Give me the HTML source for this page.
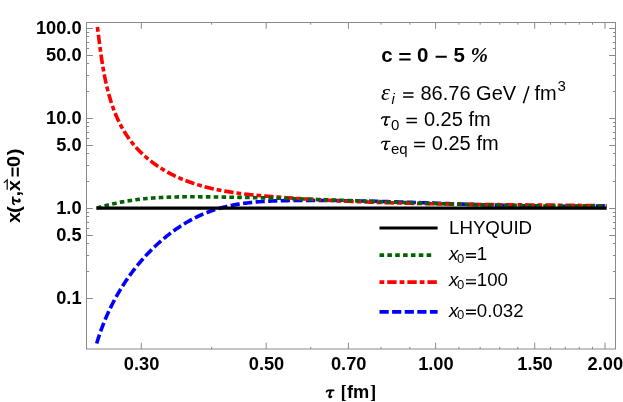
<!DOCTYPE html>
<html><head><meta charset="utf-8"><title>plot</title>
<style>html,body{margin:0;padding:0;background:#fff;}svg{display:block;will-change:transform;}text{font-family:"Liberation Sans",sans-serif;fill:#000;}.b{font-weight:bold;font-size:18.25px;}.r{font-size:20px;}.l{font-size:18.7px;}.si{font-family:"Liberation Serif",serif;font-style:italic;}.sbi{font-family:"Liberation Serif",serif;font-style:italic;font-weight:bold;}.sb{font-family:"Liberation Serif",serif;font-weight:bold;}.it{font-style:italic;}</style></head><body>
<svg width="623" height="402" viewBox="0 0 623 402">
<rect x="0" y="0" width="623" height="402" fill="#fff"/>
<g fill="none" stroke-width="3.6" stroke-linecap="butt" stroke-linejoin="round">
<path d="M96.70,343.40 L97.12,342.02 L97.54,340.64 L97.97,339.27 L98.41,337.89 L98.86,336.52 L99.31,335.16 L99.78,333.79 L100.25,332.43 L100.73,331.07 L101.22,329.71 L101.72,328.36 L102.23,327.01 L102.74,325.66 L103.26,324.31 L103.79,322.97 L104.33,321.63 L104.88,320.30 L105.43,318.97 L106.00,317.64 L106.57,316.31 L107.15,314.99 L107.74,313.67 L108.34,312.36 L108.94,311.05 L109.56,309.74 L110.18,308.43 L110.81,307.13 L111.45,305.84 L112.10,304.55 L112.75,303.26 L113.42,301.97 L114.09,300.69 L114.77,299.42 L115.46,298.14 L116.16,296.88 L116.86,295.61 L117.58,294.36 L118.30,293.10 L119.03,291.85 L119.77,290.61 L120.52,289.36 L121.28,288.13 L122.04,286.90 L122.82,285.67 L123.60,284.45 L124.39,283.23 L125.18,282.02 L125.99,280.81 L126.81,279.61 L127.63,278.41 L128.46,277.22 L129.30,276.04 L130.15,274.86 L131.01,273.68 L131.87,272.51 L132.75,271.35 L133.63,270.19 L134.52,269.03 L135.42,267.88 L136.33,266.74 L137.25,265.61 L138.17,264.47 L139.10,263.35 L140.05,262.23 L141.00,261.12 L141.95,260.01 L142.92,258.91 L143.90,257.82 L144.88,256.73 L145.87,255.65 L146.87,254.58 L147.88,253.51 L148.89,252.45 L149.91,251.40 L150.95,250.36 L151.98,249.32 L153.03,248.29 L154.08,247.27 L155.15,246.26 L156.21,245.25 L157.29,244.26 L158.37,243.27 L159.46,242.29 L160.56,241.32 L161.67,240.36 L162.78,239.41 L163.90,238.47 L165.02,237.53 L166.16,236.61 L167.30,235.70 L168.44,234.79 L169.60,233.90 L170.76,233.02 L171.92,232.14 L173.10,231.28 L174.28,230.43 L175.46,229.59 L176.65,228.76 L177.85,227.94 L179.06,227.13 L180.27,226.33 L181.49,225.55 L182.71,224.78 L183.94,224.01 L185.17,223.26 L186.41,222.53 L187.66,221.80 L188.91,221.09 L190.17,220.39 L191.43,219.70 L192.70,219.03 L193.97,218.37 L195.25,217.72 L196.54,217.08 L197.83,216.46 L199.12,215.85 L200.42,215.26 L201.73,214.68 L203.04,214.11 L204.35,213.56 L205.67,213.02 L207.00,212.50 L208.33,211.99 L209.66,211.49 L211.00,211.01 L212.34,210.55 L213.69,210.10 L215.04,209.66 L216.40,209.24 L217.76,208.83 L219.12,208.43 L220.49,208.05 L221.86,207.68 L223.24,207.32 L224.62,206.97 L226.00,206.64 L227.39,206.32 L228.78,206.01 L230.17,205.71 L231.57,205.42 L232.97,205.14 L234.37,204.88 L235.78,204.62 L237.19,204.38 L238.60,204.14 L240.02,203.92 L241.44,203.70 L242.86,203.50 L244.28,203.30 L245.71,203.11 L247.14,202.94 L248.57,202.77 L250.00,202.60 L251.44,202.45 L252.87,202.30 L254.31,202.17 L255.76,202.04 L257.20,201.91 L258.64,201.80 L260.09,201.69 L261.54,201.58 L262.99,201.49 L264.44,201.40 L265.89,201.31 L267.35,201.23 L268.80,201.16 L270.26,201.09 L271.72,201.03 L273.17,200.97 L274.63,200.91 L276.09,200.86 L277.55,200.82 L279.02,200.77 L280.48,200.74 L281.94,200.70 L283.40,200.67 L284.86,200.64 L286.33,200.61 L287.79,200.59 L289.25,200.57 L290.72,200.55 L292.18,200.53 L293.64,200.52 L295.11,200.50 L296.57,200.49 L298.03,200.48 L299.49,200.47 L300.95,200.46 L302.41,200.45 L303.87,200.44 L305.33,200.44 L306.79,200.43 L308.25,200.43 L309.71,200.43 L311.17,200.42 L312.63,200.42 L314.09,200.43 L315.55,200.43 L317.00,200.43 L318.46,200.44 L319.92,200.44 L321.37,200.45 L322.83,200.46 L324.29,200.46 L325.74,200.47 L327.20,200.48 L328.65,200.50 L330.11,200.51 L331.56,200.52 L333.02,200.54 L334.47,200.55 L335.93,200.57 L337.38,200.58 L338.83,200.60 L340.29,200.62 L341.74,200.64 L343.19,200.66 L344.64,200.68 L346.10,200.71 L347.55,200.73 L349.00,200.75 L350.45,200.78 L351.90,200.80 L353.35,200.83 L354.80,200.86 L356.26,200.89 L357.71,200.91 L359.16,200.94 L360.61,200.97 L362.06,201.01 L363.51,201.04 L364.95,201.07 L366.40,201.10 L367.85,201.13 L369.30,201.17 L370.75,201.20 L372.20,201.24 L373.65,201.27 L375.09,201.31 L376.54,201.35 L377.99,201.39 L379.44,201.42 L380.88,201.46 L382.33,201.50 L383.78,201.54 L385.23,201.58 L386.67,201.62 L388.12,201.66 L389.56,201.71 L391.01,201.75 L392.46,201.79 L393.90,201.83 L395.35,201.88 L396.79,201.92 L398.24,201.96 L399.69,202.01 L401.13,202.05 L402.58,202.10 L404.02,202.14 L405.47,202.19 L406.91,202.23 L408.35,202.28 L409.80,202.33 L411.24,202.37 L412.69,202.42 L414.13,202.47 L415.58,202.52 L417.02,202.56 L418.46,202.61 L419.91,202.66 L421.35,202.71 L422.80,202.76 L424.24,202.81 L425.68,202.86 L427.13,202.90 L428.57,202.95 L430.01,203.00 L431.46,203.05 L432.90,203.10 L434.34,203.15 L435.78,203.20 L437.23,203.25 L438.67,203.30 L440.11,203.35 L441.56,203.40 L443.00,203.45 L444.44,203.50 L445.88,203.55 L447.33,203.60 L448.77,203.64 L450.21,203.69 L451.66,203.74 L453.10,203.79 L454.54,203.84 L455.98,203.89 L457.43,203.94 L458.87,203.99 L460.31,204.03 L461.75,204.08 L463.20,204.13 L464.64,204.18 L466.08,204.23 L467.52,204.27 L468.97,204.32 L470.41,204.37 L471.85,204.41 L473.29,204.46 L474.74,204.51 L476.18,204.55 L477.62,204.60 L479.06,204.64 L480.51,204.69 L481.95,204.73 L483.39,204.77 L484.83,204.82 L486.28,204.86 L487.72,204.90 L489.16,204.95 L490.61,204.99 L492.05,205.03 L493.49,205.07 L494.94,205.11 L496.38,205.15 L497.82,205.19 L499.27,205.23 L500.71,205.27 L502.15,205.30 L503.60,205.34 L505.04,205.38 L506.49,205.42 L507.93,205.45 L509.37,205.49 L510.82,205.52 L512.26,205.55 L513.71,205.59 L515.15,205.62 L516.60,205.65 L518.04,205.68 L519.48,205.71 L520.93,205.74 L522.37,205.77 L523.82,205.80 L525.27,205.83 L526.71,205.85 L528.16,205.88 L529.60,205.91 L531.05,205.93 L532.49,205.95 L533.94,205.98 L535.39,206.00 L536.83,206.02 L538.28,206.04 L539.73,206.06 L541.17,206.08 L542.62,206.10 L544.07,206.11 L545.51,206.13 L546.96,206.14 L548.41,206.16 L549.86,206.17 L551.31,206.18 L552.75,206.19 L554.20,206.20 L555.65,206.21 L557.10,206.22 L558.55,206.23 L560.00,206.23 L561.45,206.24 L562.90,206.24 L564.35,206.25 L565.80,206.25 L567.25,206.25 L568.70,206.25 L570.15,206.25 L571.60,206.24 L573.05,206.24 L574.50,206.23 L575.96,206.23 L577.41,206.22 L578.86,206.21 L580.31,206.20 L581.76,206.19 L583.22,206.18 L584.67,206.16 L586.12,206.15 L587.58,206.13 L589.03,206.12 L590.49,206.10 L591.94,206.08 L593.40,206.06 L594.85,206.03 L596.31,206.01 L597.76,205.98 L599.22,205.96 L600.67,205.93 L602.13,205.90 L603.59,205.87 L605.04,205.83 L606.50,205.80" stroke="#0000ff" stroke-dasharray="9.2 3.4"/>
<path d="M97.40,27.00 L97.59,28.47 L97.78,29.95 L97.97,31.42 L98.16,32.91 L98.35,34.40 L98.54,35.89 L98.73,37.39 L98.92,38.89 L99.11,40.39 L99.31,41.90 L99.50,43.41 L99.70,44.92 L99.90,46.44 L100.10,47.96 L100.30,49.48 L100.51,51.00 L100.72,52.52 L100.93,54.05 L101.15,55.58 L101.37,57.11 L101.60,58.64 L101.83,60.17 L102.07,61.70 L102.31,63.23 L102.55,64.76 L102.81,66.30 L103.06,67.83 L103.33,69.36 L103.60,70.89 L103.88,72.42 L104.16,73.95 L104.45,75.48 L104.75,77.00 L105.06,78.53 L105.37,80.05 L105.70,81.57 L106.03,83.09 L106.37,84.60 L106.72,86.11 L107.08,87.62 L107.45,89.13 L107.83,90.63 L108.22,92.13 L108.63,93.63 L109.04,95.12 L109.46,96.61 L109.90,98.09 L110.34,99.57 L110.80,101.04 L111.27,102.51 L111.75,103.97 L112.25,105.43 L112.76,106.88 L113.28,108.32 L113.81,109.76 L114.36,111.20 L114.93,112.62 L115.51,114.04 L116.10,115.45 L116.71,116.86 L117.33,118.26 L117.96,119.64 L118.62,121.02 L119.28,122.40 L119.97,123.76 L120.67,125.11 L121.38,126.46 L122.11,127.79 L122.86,129.12 L123.63,130.43 L124.41,131.74 L125.21,133.03 L126.03,134.31 L126.86,135.58 L127.71,136.84 L128.59,138.09 L129.47,139.33 L130.38,140.55 L131.31,141.76 L132.25,142.96 L133.22,144.14 L134.20,145.31 L135.20,146.47 L136.22,147.61 L137.26,148.74 L138.31,149.86 L139.38,150.96 L140.47,152.05 L141.57,153.12 L142.69,154.18 L143.82,155.22 L144.97,156.25 L146.13,157.27 L147.31,158.27 L148.49,159.25 L149.69,160.22 L150.90,161.18 L152.13,162.11 L153.36,163.04 L154.61,163.95 L155.86,164.84 L157.12,165.71 L158.40,166.58 L159.68,167.42 L160.97,168.25 L162.27,169.06 L163.57,169.85 L164.88,170.63 L166.20,171.40 L167.53,172.14 L168.86,172.87 L170.20,173.59 L171.54,174.29 L172.89,174.97 L174.25,175.64 L175.61,176.29 L176.98,176.93 L178.35,177.56 L179.73,178.17 L181.12,178.76 L182.51,179.35 L183.91,179.92 L185.31,180.47 L186.72,181.01 L188.13,181.54 L189.54,182.06 L190.97,182.56 L192.39,183.05 L193.83,183.53 L195.26,184.00 L196.70,184.45 L198.15,184.90 L199.60,185.33 L201.05,185.75 L202.51,186.16 L203.97,186.56 L205.44,186.95 L206.91,187.32 L208.39,187.69 L209.86,188.05 L211.35,188.40 L212.83,188.74 L214.32,189.06 L215.81,189.38 L217.31,189.70 L218.80,190.00 L220.30,190.29 L221.81,190.58 L223.32,190.85 L224.82,191.12 L226.34,191.38 L227.85,191.64 L229.37,191.88 L230.89,192.12 L232.41,192.35 L233.93,192.58 L235.46,192.80 L236.99,193.01 L238.52,193.22 L240.05,193.42 L241.58,193.62 L243.12,193.80 L244.65,193.99 L246.19,194.17 L247.73,194.34 L249.27,194.51 L250.81,194.68 L252.36,194.84 L253.90,195.00 L255.44,195.15 L256.99,195.30 L258.53,195.44 L260.08,195.59 L261.62,195.73 L263.17,195.86 L264.72,196.00 L266.26,196.13 L267.81,196.26 L269.36,196.39 L270.91,196.51 L272.45,196.63 L274.00,196.76 L275.54,196.88 L277.09,197.00 L278.63,197.12 L280.18,197.23 L281.72,197.35 L283.27,197.47 L284.81,197.58 L286.35,197.69 L287.90,197.80 L289.44,197.91 L290.98,198.02 L292.52,198.13 L294.07,198.23 L295.61,198.34 L297.15,198.44 L298.69,198.55 L300.23,198.65 L301.77,198.75 L303.31,198.85 L304.85,198.94 L306.38,199.04 L307.92,199.14 L309.46,199.23 L311.00,199.32 L312.54,199.41 L314.07,199.51 L315.61,199.60 L317.15,199.68 L318.68,199.77 L320.22,199.86 L321.76,199.94 L323.29,200.03 L324.83,200.11 L326.36,200.19 L327.90,200.27 L329.43,200.35 L330.97,200.43 L332.50,200.51 L334.03,200.59 L335.57,200.67 L337.10,200.74 L338.63,200.81 L340.17,200.89 L341.70,200.96 L343.23,201.03 L344.76,201.10 L346.30,201.17 L347.83,201.24 L349.36,201.31 L350.89,201.37 L352.42,201.44 L353.95,201.50 L355.48,201.57 L357.01,201.63 L358.54,201.69 L360.07,201.75 L361.60,201.81 L363.13,201.87 L364.66,201.93 L366.19,201.99 L367.72,202.04 L369.25,202.10 L370.78,202.15 L372.31,202.21 L373.84,202.26 L375.36,202.32 L376.89,202.37 L378.42,202.42 L379.95,202.47 L381.48,202.52 L383.00,202.57 L384.53,202.61 L386.06,202.66 L387.59,202.71 L389.11,202.75 L390.64,202.80 L392.17,202.84 L393.69,202.89 L395.22,202.93 L396.75,202.97 L398.27,203.02 L399.80,203.06 L401.33,203.10 L402.85,203.14 L404.38,203.18 L405.91,203.21 L407.43,203.25 L408.96,203.29 L410.48,203.32 L412.01,203.36 L413.54,203.40 L415.06,203.43 L416.59,203.46 L418.11,203.50 L419.64,203.53 L421.16,203.56 L422.69,203.60 L424.21,203.63 L425.74,203.66 L427.26,203.69 L428.79,203.72 L430.31,203.75 L431.84,203.78 L433.37,203.80 L434.89,203.83 L436.42,203.86 L437.94,203.89 L439.47,203.91 L440.99,203.94 L442.52,203.96 L444.04,203.99 L445.57,204.01 L447.09,204.04 L448.62,204.06 L450.14,204.09 L451.67,204.11 L453.19,204.13 L454.72,204.15 L456.24,204.17 L457.77,204.20 L459.30,204.22 L460.82,204.24 L462.35,204.26 L463.87,204.28 L465.40,204.30 L466.92,204.32 L468.45,204.34 L469.98,204.36 L471.50,204.37 L473.03,204.39 L474.55,204.41 L476.08,204.43 L477.61,204.45 L479.13,204.46 L480.66,204.48 L482.19,204.50 L483.71,204.51 L485.24,204.53 L486.77,204.55 L488.29,204.56 L489.82,204.58 L491.35,204.59 L492.88,204.61 L494.40,204.62 L495.93,204.64 L497.46,204.65 L498.99,204.67 L500.51,204.68 L502.04,204.70 L503.57,204.71 L505.10,204.72 L506.63,204.74 L508.16,204.75 L509.69,204.77 L511.22,204.78 L512.74,204.79 L514.27,204.81 L515.80,204.82 L517.33,204.83 L518.86,204.85 L520.39,204.86 L521.92,204.87 L523.46,204.89 L524.99,204.90 L526.52,204.91 L528.05,204.93 L529.58,204.94 L531.11,204.95 L532.64,204.97 L534.18,204.98 L535.71,204.99 L537.24,205.01 L538.77,205.02 L540.31,205.04 L541.84,205.05 L543.37,205.06 L544.91,205.08 L546.44,205.09 L547.98,205.10 L549.51,205.12 L551.04,205.13 L552.58,205.15 L554.11,205.16 L555.65,205.18 L557.19,205.19 L558.72,205.21 L560.26,205.22 L561.80,205.24 L563.33,205.25 L564.87,205.27 L566.41,205.29 L567.95,205.30 L569.48,205.32 L571.02,205.34 L572.56,205.35 L574.10,205.37 L575.64,205.39 L577.18,205.40 L578.72,205.42 L580.26,205.44 L581.80,205.46 L583.34,205.48 L584.88,205.50 L586.42,205.52 L587.97,205.54 L589.51,205.56 L591.05,205.58 L592.60,205.60 L594.14,205.62 L595.68,205.64 L597.23,205.66 L598.77,205.68 L600.32,205.71 L601.86,205.73 L603.41,205.75 L604.95,205.78 L606.50,205.80" stroke="#ff0000" stroke-dasharray="4.8 2.95 9.4 2.95"/>
<path d="M97.00,208.10 L98.25,207.71 L99.51,207.33 L100.77,206.96 L102.03,206.60 L103.29,206.24 L104.55,205.90 L105.81,205.56 L107.07,205.23 L108.33,204.91 L109.59,204.60 L110.85,204.29 L112.11,203.99 L113.37,203.70 L114.63,203.42 L115.89,203.15 L117.15,202.88 L118.41,202.62 L119.68,202.37 L120.94,202.12 L122.20,201.88 L123.46,201.65 L124.73,201.43 L125.99,201.21 L127.25,201.00 L128.51,200.80 L129.78,200.60 L131.04,200.41 L132.30,200.22 L133.57,200.04 L134.83,199.87 L136.10,199.70 L137.36,199.54 L138.63,199.39 L139.89,199.24 L141.16,199.09 L142.42,198.95 L143.69,198.82 L144.95,198.69 L146.22,198.57 L147.48,198.45 L148.75,198.34 L150.02,198.23 L151.28,198.13 L152.55,198.03 L153.82,197.94 L155.08,197.85 L156.35,197.76 L157.62,197.68 L158.89,197.61 L160.15,197.53 L161.42,197.47 L162.69,197.40 L163.96,197.34 L165.23,197.29 L166.50,197.23 L167.76,197.18 L169.03,197.14 L170.30,197.10 L171.57,197.06 L172.84,197.02 L174.11,196.99 L175.38,196.96 L176.65,196.93 L177.92,196.91 L179.19,196.88 L180.46,196.87 L181.73,196.85 L183.00,196.83 L184.27,196.82 L185.54,196.81 L186.81,196.80 L188.09,196.80 L189.36,196.79 L190.63,196.79 L191.90,196.79 L193.17,196.79 L194.44,196.80 L195.72,196.80 L196.99,196.81 L198.26,196.81 L199.53,196.82 L200.81,196.83 L202.08,196.84 L203.35,196.85 L204.63,196.86 L205.90,196.87 L207.17,196.88 L208.45,196.89 L209.72,196.91 L210.99,196.92 L212.27,196.94 L213.54,196.95 L214.82,196.97 L216.09,196.98 L217.36,197.00 L218.64,197.01 L219.91,197.03 L221.19,197.05 L222.46,197.07 L223.74,197.09 L225.01,197.11 L226.29,197.12 L227.57,197.14 L228.84,197.17 L230.12,197.19 L231.39,197.21 L232.67,197.23 L233.94,197.25 L235.22,197.27 L236.50,197.30 L237.77,197.32 L239.05,197.34 L240.33,197.37 L241.60,197.39 L242.88,197.42 L244.16,197.44 L245.43,197.47 L246.71,197.50 L247.99,197.52 L249.27,197.55 L250.54,197.58 L251.82,197.61 L253.10,197.63 L254.38,197.66 L255.66,197.69 L256.93,197.72 L258.21,197.75 L259.49,197.78 L260.77,197.81 L262.05,197.84 L263.33,197.87 L264.60,197.91 L265.88,197.94 L267.16,197.97 L268.44,198.00 L269.72,198.03 L271.00,198.07 L272.28,198.10 L273.56,198.14 L274.84,198.17 L276.12,198.20 L277.40,198.24 L278.68,198.27 L279.95,198.31 L281.23,198.34 L282.51,198.38 L283.79,198.42 L285.07,198.45 L286.35,198.49 L287.64,198.53 L288.92,198.56 L290.20,198.60 L291.48,198.64 L292.76,198.68 L294.04,198.72 L295.32,198.75 L296.60,198.79 L297.88,198.83 L299.16,198.87 L300.44,198.91 L301.72,198.95 L303.00,198.99 L304.28,199.03 L305.57,199.07 L306.85,199.11 L308.13,199.15 L309.41,199.19 L310.69,199.24 L311.97,199.28 L313.26,199.32 L314.54,199.36 L315.82,199.40 L317.10,199.44 L318.38,199.49 L319.66,199.53 L320.95,199.57 L322.23,199.61 L323.51,199.66 L324.79,199.70 L326.07,199.74 L327.36,199.79 L328.64,199.83 L329.92,199.87 L331.20,199.92 L332.49,199.96 L333.77,200.01 L335.05,200.05 L336.33,200.10 L337.62,200.14 L338.90,200.18 L340.18,200.23 L341.46,200.27 L342.75,200.32 L344.03,200.36 L345.31,200.41 L346.60,200.45 L347.88,200.50 L349.16,200.54 L350.44,200.59 L351.73,200.64 L353.01,200.68 L354.29,200.73 L355.58,200.77 L356.86,200.82 L358.14,200.86 L359.43,200.91 L360.71,200.96 L361.99,201.00 L363.28,201.05 L364.56,201.09 L365.84,201.14 L367.13,201.19 L368.41,201.23 L369.69,201.28 L370.98,201.32 L372.26,201.37 L373.54,201.42 L374.83,201.46 L376.11,201.51 L377.39,201.55 L378.68,201.60 L379.96,201.65 L381.24,201.69 L382.53,201.74 L383.81,201.78 L385.10,201.83 L386.38,201.88 L387.66,201.92 L388.95,201.97 L390.23,202.01 L391.51,202.06 L392.80,202.10 L394.08,202.15 L395.36,202.20 L396.65,202.24 L397.93,202.29 L399.22,202.33 L400.50,202.38 L401.78,202.42 L403.07,202.47 L404.35,202.51 L405.63,202.56 L406.92,202.60 L408.20,202.65 L409.48,202.69 L410.77,202.74 L412.05,202.78 L413.34,202.82 L414.62,202.87 L415.90,202.91 L417.19,202.96 L418.47,203.00 L419.75,203.04 L421.04,203.09 L422.32,203.13 L423.60,203.17 L424.89,203.22 L426.17,203.26 L427.45,203.30 L428.74,203.35 L430.02,203.39 L431.30,203.43 L432.59,203.47 L433.87,203.51 L435.15,203.55 L436.44,203.60 L437.72,203.64 L439.00,203.68 L440.29,203.72 L441.57,203.76 L442.85,203.80 L444.14,203.84 L445.42,203.88 L446.70,203.92 L447.98,203.96 L449.27,204.00 L450.55,204.04 L451.83,204.08 L453.12,204.12 L454.40,204.15 L455.68,204.19 L456.96,204.23 L458.25,204.27 L459.53,204.30 L460.81,204.34 L462.09,204.38 L463.38,204.41 L464.66,204.45 L465.94,204.49 L467.22,204.52 L468.51,204.56 L469.79,204.59 L471.07,204.63 L472.35,204.66 L473.63,204.70 L474.92,204.73 L476.20,204.76 L477.48,204.80 L478.76,204.83 L480.04,204.86 L481.33,204.89 L482.61,204.93 L483.89,204.96 L485.17,204.99 L486.45,205.02 L487.73,205.05 L489.01,205.08 L490.30,205.11 L491.58,205.14 L492.86,205.17 L494.14,205.20 L495.42,205.23 L496.70,205.25 L497.98,205.28 L499.26,205.31 L500.54,205.33 L501.82,205.36 L503.11,205.39 L504.39,205.41 L505.67,205.44 L506.95,205.46 L508.23,205.49 L509.51,205.51 L510.79,205.53 L512.07,205.56 L513.35,205.58 L514.63,205.60 L515.91,205.62 L517.19,205.64 L518.47,205.67 L519.75,205.69 L521.02,205.71 L522.30,205.73 L523.58,205.74 L524.86,205.76 L526.14,205.78 L527.42,205.80 L528.70,205.82 L529.98,205.83 L531.26,205.85 L532.54,205.86 L533.81,205.88 L535.09,205.89 L536.37,205.91 L537.65,205.92 L538.93,205.94 L540.21,205.95 L541.48,205.96 L542.76,205.97 L544.04,205.98 L545.32,205.99 L546.59,206.00 L547.87,206.01 L549.15,206.02 L550.43,206.03 L551.70,206.04 L552.98,206.05 L554.26,206.05 L555.53,206.06 L556.81,206.06 L558.09,206.07 L559.36,206.07 L560.64,206.08 L561.91,206.08 L563.19,206.08 L564.47,206.09 L565.74,206.09 L567.02,206.09 L568.29,206.09 L569.57,206.09 L570.84,206.09 L572.12,206.09 L573.39,206.08 L574.67,206.08 L575.94,206.08 L577.22,206.07 L578.49,206.07 L579.77,206.06 L581.04,206.06 L582.32,206.05 L583.59,206.04 L584.86,206.04 L586.14,206.03 L587.41,206.02 L588.69,206.01 L589.96,206.00 L591.23,205.99 L592.50,205.98 L593.78,205.96 L595.05,205.95 L596.32,205.94 L597.60,205.92 L598.87,205.91 L600.14,205.89 L601.41,205.87 L602.68,205.86 L603.96,205.84 L605.23,205.82 L606.50,205.80" stroke="#006400" stroke-dasharray="4.6 3.25"/>
<path d="M96.3,208.1 L606.7,208.1" stroke="#000" stroke-width="3.15"/>
</g>
<g fill="none" stroke="#8a8a8a" stroke-width="1">
<rect x="86.5" y="22.5" width="529.0" height="326.5"/>
<path d="M86.5,28.5h6.3M615.5,28.5h-6.3M86.5,55.5h6.3M615.5,55.5h-6.3M86.5,118.5h6.3M615.5,118.5h-6.3M86.5,145.5h6.3M615.5,145.5h-6.3M86.5,208.5h6.3M615.5,208.5h-6.3M86.5,235.5h6.3M615.5,235.5h-6.3M86.5,298.5h6.3M615.5,298.5h-6.3M86.5,32.5h2.6M615.5,32.5h-2.6M86.5,36.5h2.6M615.5,36.5h-2.6M86.5,42.5h2.6M615.5,42.5h-2.6M86.5,48.5h2.6M615.5,48.5h-2.6M86.5,63.5h2.6M615.5,63.5h-2.6M86.5,75.5h2.6M615.5,75.5h-2.6M86.5,91.5h2.6M615.5,91.5h-2.6M86.5,122.5h2.6M615.5,122.5h-2.6M86.5,126.5h2.6M615.5,126.5h-2.6M86.5,132.5h2.6M615.5,132.5h-2.6M86.5,138.5h2.6M615.5,138.5h-2.6M86.5,153.5h2.6M615.5,153.5h-2.6M86.5,165.5h2.6M615.5,165.5h-2.6M86.5,181.5h2.6M615.5,181.5h-2.6M86.5,212.5h2.6M615.5,212.5h-2.6M86.5,216.5h2.6M615.5,216.5h-2.6M86.5,222.5h2.6M615.5,222.5h-2.6M86.5,228.5h2.6M615.5,228.5h-2.6M86.5,243.5h2.6M615.5,243.5h-2.6M86.5,255.5h2.6M615.5,255.5h-2.6M86.5,271.5h2.6M615.5,271.5h-2.6M141.32,349.0v-6.3M141.32,22.5v6.3M266.18,349.0v-6.3M266.18,22.5v6.3M348.42,349.0v-6.3M348.42,22.5v6.3M435.6,349.0v-6.3M435.6,22.5v6.3M534.7,349.0v-6.3M534.7,22.5v6.3M605.02,349.0v-6.3M605.02,22.5v6.3M211.64,349.0v-2.2M211.64,22.5v2.2M310.74,349.0v-2.2M310.74,22.5v2.2M381.06,349.0v-2.2M381.06,22.5v2.2M409.85,349.0v-2.2M409.85,22.5v2.2M458.9,349.0v-2.2M458.9,22.5v2.2M480.16,349.0v-2.2M480.16,22.5v2.2M499.73,349.0v-2.2M499.73,22.5v2.2M517.84,349.0v-2.2M517.84,22.5v2.2M550.48,349.0v-2.2M550.48,22.5v2.2M565.3,349.0v-2.2M565.3,22.5v2.2M579.27,349.0v-2.2M579.27,22.5v2.2M592.48,349.0v-2.2M592.48,22.5v2.2"/>
</g>
<text class="b" x="81.6" y="33.8" text-anchor="end">100.0</text>
<text class="b" x="81.6" y="60.9" text-anchor="end">50.0</text>
<text class="b" x="81.6" y="123.8" text-anchor="end">10.0</text>
<text class="b" x="81.6" y="150.9" text-anchor="end">5.0</text>
<text class="b" x="81.6" y="213.8" text-anchor="end">1.0</text>
<text class="b" x="81.6" y="240.9" text-anchor="end">0.5</text>
<text class="b" x="81.6" y="303.8" text-anchor="end">0.1</text>
<text class="b" x="141.6" y="369.8" text-anchor="middle">0.30</text>
<text class="b" x="266.5" y="369.8" text-anchor="middle">0.50</text>
<text class="b" x="348.7" y="369.8" text-anchor="middle">0.70</text>
<text class="b" x="435.9" y="369.8" text-anchor="middle">1.00</text>
<text class="b" x="535.0" y="369.8" text-anchor="middle">1.50</text>
<text class="b" x="605.3" y="369.8" text-anchor="middle">2.00</text>
<text class="b" y="397.6"><tspan class="sb" x="340.6" font-size="19">[</tspan><tspan x="347">fm</tspan><tspan class="sb" x="370" font-size="19">]</tspan></text>
<g transform="translate(326.1,397.6) scale(0.85) " fill="none" stroke="#000" stroke-linecap="round" stroke-linejoin="round"><path d="M0.5,-6.9 Q1.1,-8.5 2.7,-8.5 L8.9,-8.5" stroke-width="2.0"/><path d="M5.6,-8.3 L3.8,-2.1 Q3.3,-0.4 4.9,-0.4 Q5.6,-0.4 6.2,-1.1" stroke-width="2.40"/></g>
<g transform="translate(20.2,223) rotate(-90)"><g transform="scale(1.1,0.97)"><text class="b" y="0"><tspan x="-0.1">x</tspan><tspan x="9.1">(</tspan><tspan x="24.1">,</tspan><tspan x="28.8">x</tspan><tspan x="50.9">0</tspan><tspan x="61.7">)</tspan></text></g><path d="M46.4,-8.7h9v2h-9zM46.4,-3.4h9v2h-9z" fill="#000"/><path d="M33.2,-13.0 H43.1 L40.1,-16.4" stroke="#000" stroke-width="1.2" fill="none"/><g transform="translate(18.3,-0.1) scale(0.85) " fill="none" stroke="#000" stroke-linecap="round" stroke-linejoin="round"><path d="M0.5,-6.9 Q1.1,-8.5 2.7,-8.5 L8.9,-8.5" stroke-width="2.0"/><path d="M5.6,-8.3 L3.8,-2.1 Q3.3,-0.4 4.9,-0.4 Q5.6,-0.4 6.2,-1.1" stroke-width="2.40"/></g></g>
<text class="b" y="61.8" style="font-size:20.5px"><tspan x="381.2">c</tspan><tspan x="417.1">0</tspan><tspan x="453.4">5</tspan><tspan class="sbi" x="470.4" font-size="21">%</tspan></text>
<path d="M399.3,53.1h11.3v2h-11.3zM399.3,58.4h11.3v2h-11.3zM435.6,55.8h11.2v2h-11.2z" fill="#000"/>
<text class="r" y="99.8"><tspan class="si" x="381.1" font-size="23">ε</tspan><tspan class="it" x="391.6" dy="3.8" font-size="14.5">i</tspan><tspan x="420.5" dy="-3.8">86.76 GeV</tspan><tspan x="534.4" textLength="22.2" lengthAdjust="spacingAndGlyphs">fm</tspan><tspan x="557.5" dy="-8.7" font-size="15">3</tspan></text>
<path d="M528.9,86.3L523.4,103.3" stroke="#000" stroke-width="1.5" fill="none"/>
<text class="r" y="125.5"><tspan x="391" dy="4" font-size="15">0</tspan><tspan x="423.9" dy="-4">0.25</tspan><tspan x="468.5">fm</tspan></text>
<text class="r" y="149.8"><tspan x="391" dy="4" font-size="15">eq</tspan><tspan x="431.8" dy="-4">0.25</tspan><tspan x="476.5">fm</tspan></text>
<g transform="translate(381,125.5) scale(1.0) " fill="none" stroke="#000" stroke-linecap="round" stroke-linejoin="round"><path d="M0.5,-6.9 Q1.1,-8.5 2.7,-8.5 L8.9,-8.5" stroke-width="1.35"/><path d="M5.6,-8.3 L3.8,-2.1 Q3.3,-0.4 4.9,-0.4 Q5.6,-0.4 6.2,-1.1" stroke-width="1.62"/></g>
<g transform="translate(381,149.8) scale(1.0) " fill="none" stroke="#000" stroke-linecap="round" stroke-linejoin="round"><path d="M0.5,-6.9 Q1.1,-8.5 2.7,-8.5 L8.9,-8.5" stroke-width="1.35"/><path d="M5.6,-8.3 L3.8,-2.1 Q3.3,-0.4 4.9,-0.4 Q5.6,-0.4 6.2,-1.1" stroke-width="1.62"/></g>
<path d="M403.1,92.35H413.5v1.5H403.1zM403.1,96.25H413.5v1.5H403.1z" fill="#000"/>
<path d="M406.4,117.85H416.9v1.5H406.4zM406.4,121.75H416.9v1.5H406.4z" fill="#000"/>
<path d="M414.1,141.85H424.9v1.5H414.1zM414.1,145.75H424.9v1.5H414.1z" fill="#000"/>
<g fill="none" stroke-width="3.6">
<path d="M379.5,228 H437.6" stroke="#000" stroke-width="3.15"/>
<path d="M379.5,255.1 H431.4" stroke="#006400" stroke-dasharray="4.6 3.25"/>
<path d="M379.5,282.1 H437.6" stroke="#ff0000" stroke-dasharray="4.8 2.95 9.4 2.95"/>
<path d="M379.5,311.9 H437.6" stroke="#0000ff" stroke-dasharray="9.2 3.4"/>
</g>
<text class="l" x="449" y="233.9">LHYQUID</text>
<text class="l" y="260.2"><tspan class="it" x="449">x</tspan><tspan x="456.9" dy="2.6" font-size="13">0</tspan><tspan x="476.8" dy="-2.6">1</tspan></text>
<path d="M466.0,253.0H476.0v1.4H466.0zM466.0,256.6H476.0v1.4H466.0z" fill="#000"/>
<text class="l" y="286.4"><tspan class="it" x="449">x</tspan><tspan x="456.9" dy="2.6" font-size="13">0</tspan><tspan x="476.8" dy="-2.6">100</tspan></text>
<path d="M466.0,279.2H476.0v1.4H466.0zM466.0,282.8H476.0v1.4H466.0z" fill="#000"/>
<text class="l" y="316.7"><tspan class="it" x="449">x</tspan><tspan x="456.9" dy="2.6" font-size="13">0</tspan><tspan x="476.8" dy="-2.6">0.032</tspan></text>
<path d="M466.0,309.5H476.0v1.4H466.0zM466.0,313.1H476.0v1.4H466.0z" fill="#000"/>
</svg></body></html>
